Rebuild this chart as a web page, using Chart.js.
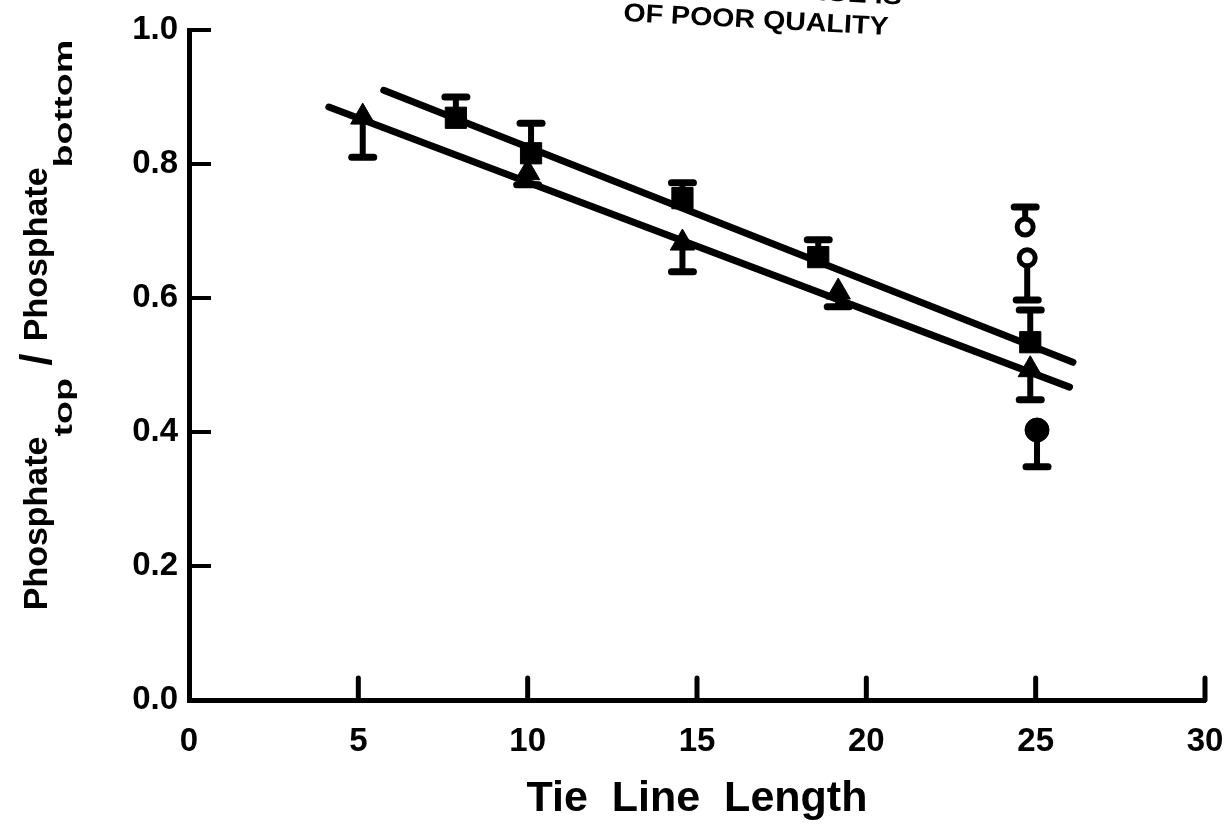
<!DOCTYPE html>
<html>
<head>
<meta charset="utf-8">
<script src="https://cdn.jsdelivr.net/npm/chart.js@4.4.1/dist/chart.umd.min.js"></script>
<style>
  html, body { margin: 0; padding: 0; background: #fff; }
  canvas { display: block; }
</style>
</head>
<body>
<canvas id="phosChart" width="1229" height="839"></canvas>
<script>
// axis ticks
const xTickValues = [0, 5, 10, 15, 20, 25, 30];
const yTickValues = [0.0, 0.2, 0.4, 0.6, 0.8, 1.0];

// squares (upper error bars only visible)
const squareX = [7.88, 10.1, 14.57, 18.58, 24.84];
const squareY = [0.869, 0.816, 0.749, 0.661, 0.534];
const squareErrUp = [0.031, 0.045, 0.023, 0.026, 0.048];

// triangles (lower error bars only visible)
const triangleX = [5.13, 10.0, 14.57, 19.17, 24.84];
const triangleY = [0.87, 0.787, 0.682, 0.609, 0.493];
const triangleErrDown = [0.06, 0.018, 0.043, 0.022, 0.045];

// open circles at the longest tie line
const openX = [24.69, 24.75];
const openY = [0.706, 0.66];
const openErrUp = [0.03, 0];
const openErrDown = [0, 0.063];

// filled circle
const filledX = [25.04];
const filledY = [0.403];
const filledErrDown = [0.055];

// fitted lines (end points)
const fitTopX = [5.75, 26.1];
const fitTopY = [0.91, 0.504];
const fitBottomX = [4.13, 26.0];
const fitBottomY = [0.885, 0.467];

const FONT = '"Liberation Sans", Arial, sans-serif';

function pts(xs, ys) {
    return xs.map((x, i) => ({ x: x, y: ys[i] }));
}

// error bars, drawn before the markers so the markers sit on top
const errorBars = {
    id: 'errorBars',
    beforeDatasetsDraw(chart) {
        const ctx = chart.ctx;
        const xs = chart.scales.x, ys = chart.scales.y;
        ctx.save();
        ctx.strokeStyle = '#000';
        ctx.lineCap = 'round';
        chart.data.datasets.forEach(ds => {
            if (!ds.errUp && !ds.errDown) return;
            ds.data.forEach((p, i) => {
                const px = xs.getPixelForValue(p.x);
                const py = ys.getPixelForValue(p.y);
                [ds.errUp ? ds.errUp[i] : 0, ds.errDown ? -ds.errDown[i] : 0].forEach(e => {
                    if (!e) return;
                    const ey = ys.getPixelForValue(p.y + e);
                    ctx.lineWidth = 6;
                    ctx.beginPath();
                    ctx.moveTo(px, py);
                    ctx.lineTo(px, ey);
                    ctx.stroke();
                    ctx.lineWidth = 7;
                    ctx.beginPath();
                    ctx.moveTo(px - 11, ey);
                    ctx.lineTo(px + 11, ey);
                    ctx.stroke();
                });
            });
        });
        ctx.restore();
    }
};

// inward tick marks, axis title with subscripts, header text
const decorations = {
    id: 'decorations',
    afterDraw(chart) {
        const ctx = chart.ctx;
        const xs = chart.scales.x, ys = chart.scales.y;
        const area = chart.chartArea;
        ctx.save();
        ctx.strokeStyle = '#000';
        ctx.lineWidth = 5;
        ctx.lineCap = 'round';
        xTickValues.forEach(v => {
            if (v === 0) return;
            const px = xs.getPixelForValue(v);
            ctx.beginPath();
            ctx.moveTo(px, area.bottom);
            ctx.lineTo(px, area.bottom - 22);
            ctx.stroke();
        });
        ctx.lineWidth = 4;
        ctx.lineCap = 'butt';
        yTickValues.forEach(v => {
            if (v === 0) return;
            const py = ys.getPixelForValue(v);
            ctx.beginPath();
            ctx.moveTo(area.left, py);
            ctx.lineTo(area.left + 22, py);
            ctx.stroke();
        });
        ctx.restore();

        // y axis title: Phosphate_top / Phosphate_bottom
        const parts = [
            { t: 'Phosphate', size: 34, sx: 1.0, dy: 0 },
            { t: 'top', size: 26, sx: 1.45, dy: 25 },
            { t: ' / ', size: 44, sx: 1.0, dy: 4 },
            { t: 'Phosphate', size: 34, sx: 1.0, dy: 0 },
            { t: 'bottom', size: 26, sx: 1.45, dy: 25 }
        ];
        ctx.save();
        ctx.fillStyle = '#000';
        ctx.textBaseline = 'alphabetic';
        ctx.textAlign = 'left';
        let total = 0;
        parts.forEach(p => {
            ctx.font = 'bold ' + p.size + 'px ' + FONT;
            p.w = ctx.measureText(p.t).width * p.sx;
            total += p.w;
        });
        ctx.translate(47, 325);
        ctx.rotate(-Math.PI / 2);
        let cx = -total / 2;
        parts.forEach(p => {
            ctx.save();
            ctx.font = 'bold ' + p.size + 'px ' + FONT;
            ctx.translate(cx, p.dy);
            ctx.scale(p.sx, 1);
            ctx.fillText(p.t, 0, 0);
            ctx.restore();
            cx += p.w;
        });
        ctx.restore();

        // header stamp, partly cut off at the top edge
        ctx.save();
        ctx.fillStyle = '#000';
        ctx.font = 'bold 26px ' + FONT;
        ctx.translate(623, 21);
        ctx.rotate(3 * Math.PI / 180);
        ctx.scale(1.1, 1);
        ctx.fillText('OF POOR QUALITY', 0, 0);
        ctx.textAlign = 'right';
        ctx.fillText('ORIGINAL PAGE IS', 252, -31);
        ctx.restore();
    }
};

const ctx = document.getElementById('phosChart').getContext('2d');
const chart = new Chart(ctx, {
    type: 'scatter',
    data: {
        datasets: [
            {
                type: 'line', label: 'Fit (squares)',
                data: pts(fitTopX, fitTopY),
                borderColor: '#000', borderWidth: 7, borderCapStyle: 'round',
                pointRadius: 0, fill: false, tension: 0, order: 5
            },
            {
                type: 'line', label: 'Fit (triangles)',
                data: pts(fitBottomX, fitBottomY),
                borderColor: '#000', borderWidth: 7, borderCapStyle: 'round',
                pointRadius: 0, fill: false, tension: 0, order: 5
            },
            {
                label: 'Squares', data: pts(squareX, squareY), errUp: squareErrUp,
                pointStyle: 'rect', pointRadius: 15, backgroundColor: '#000', borderColor: '#000', borderWidth: 1, order: 1
            },
            {
                label: 'Triangles', data: pts(triangleX, triangleY), errDown: triangleErrDown,
                pointStyle: 'triangle', pointRadius: 14, backgroundColor: '#000', borderColor: '#000', borderWidth: 1, order: 1
            },
            {
                label: 'Open circles', data: pts(openX, openY), errUp: openErrUp, errDown: openErrDown,
                pointStyle: 'circle', pointRadius: 8, backgroundColor: '#fff', borderColor: '#000', borderWidth: 5, order: 1
            },
            {
                label: 'Filled circle', data: pts(filledX, filledY), errDown: filledErrDown,
                pointStyle: 'circle', pointRadius: 12, backgroundColor: '#000', borderColor: '#000', borderWidth: 1, order: 1
            }
        ]
    },
    options: {
        responsive: false,
        animation: false,
        layout: { padding: { top: 30, right: 24, left: 0, bottom: 0 } },
        plugins: {
            legend: { display: false },
            tooltip: { enabled: false }
        },
        scales: {
            x: {
                type: 'linear', min: 0, max: 30,
                afterBuildTicks: scale => { scale.ticks = xTickValues.map(v => ({ value: v })); },
                afterFit: scale => { scale.height = 139; scale.paddingLeft = 0; scale.paddingRight = 0; },
                grid: { display: false, drawTicks: false },
                border: { display: true, color: '#000', width: 5 },
                ticks: {
                    color: '#000', padding: 22,
                    font: { family: FONT, size: 33, weight: 'bold' },
                    callback: v => String(v)
                },
                title: {
                    display: true, text: 'Tie  Line  Length', color: '#000',
                    font: { family: FONT, size: 43, weight: 'bold' },
                    padding: { top: 0, bottom: 14 }
                }
            },
            y: {
                type: 'linear', min: 0, max: 1,
                afterBuildTicks: scale => { scale.ticks = yTickValues.map(v => ({ value: v })); },
                afterFit: scale => { scale.width = 189; scale.paddingTop = 0; scale.paddingBottom = 0; },
                grid: { display: false, drawTicks: false },
                border: { display: true, color: '#000', width: 5 },
                ticks: {
                    color: '#000', padding: 11,
                    font: { family: FONT, size: 33, weight: 'bold' },
                    callback: v => v.toFixed(1)
                }
            }
        }
    },
    plugins: [errorBars, decorations]
});
</script>
</body>
</html>
